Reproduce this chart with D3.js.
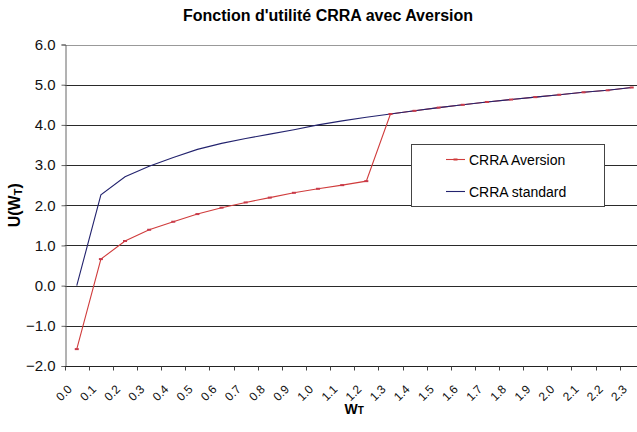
<!DOCTYPE html>
<html>
<head>
<meta charset="utf-8">
<script src="https://cdn.jsdelivr.net/npm/d3@7"></script>
<style>
  body { margin: 0; background: #fff; }
  svg { display: block; font-family: "Liberation Sans", Arial, sans-serif; }
</style>
</head>
<body>
<svg width="637" height="432"></svg>
<script>
// tick labels of the category axis
const categories = ["0.0","0.1","0.2","0.3","0.4","0.5","0.6","0.7","0.8","0.9","1.0","1.1",
                    "1.2","1.3","1.4","1.5","1.6","1.7","1.8","1.9","2.0","2.1","2.2","2.3"];

// values
const aversion = [-1.58, 0.66, 1.11, 1.39, 1.59, 1.78, 1.94, 2.07, 2.19, 2.31, 2.41, 2.50,
                  2.60, 4.27, 4.35, 4.43, 4.50, 4.57, 4.63, 4.69, 4.75, 4.81, 4.86, 4.93];
const standard = [0.00, 2.26, 2.71, 2.97, 3.19, 3.39, 3.54, 3.66, 3.77, 3.88, 4.00, 4.10,
                  4.19, 4.27, 4.35, 4.43, 4.50, 4.57, 4.63, 4.69, 4.75, 4.81, 4.86, 4.93];

const yTicks = [-2, -1, 0, 1, 2, 3, 4, 5, 6];

const svg = d3.select("svg");
const pLeft = 64.7, pRight = 643.8, pTop = 44.5, pBottom = 366;

const x = d3.scaleBand().domain(categories).range([pLeft, pRight]).padding(0);
const y = d3.scaleLinear().domain([-2, 6]).range([pBottom, pTop]);
const cx = c => x(c) + x.bandwidth() / 2;
const snap = v => Math.round(v) + 0.5;

// title
svg.append("text")
    .attr("x", 328).attr("y", 21)
    .attr("text-anchor", "middle")
    .attr("font-size", "16px").attr("font-weight", "bold")
    .text("Fonction d'utilité CRRA avec Aversion");

// horizontal grid
svg.append("g").selectAll("line")
    .data(yTicks.filter(d => d > -2))
    .join("line")
    .attr("x1", pLeft).attr("x2", pRight)
    .attr("y1", d => snap(y(d))).attr("y2", d => snap(y(d)))
    .attr("stroke", d => d === 6 ? "#999" : "#2a2a2a")
    .attr("stroke-width", 1);

// y axis
const yAxis = svg.append("g")
    .attr("transform", `translate(${snap(pLeft)},0)`)
    .call(d3.axisLeft(y).tickValues(yTicks).tickFormat(d3.format(".1f")).tickSize(4).tickPadding(6));
yAxis.select(".domain").attr("stroke", "#666");
yAxis.selectAll(".tick line").attr("stroke", "#666");
yAxis.selectAll(".tick text")
    .attr("font-size", "15px").attr("fill", "#111")
    .attr("font-family", "'Liberation Sans', Arial, sans-serif");

// x axis line + ticks on band boundaries
svg.append("line")
    .attr("x1", pLeft).attr("x2", pRight)
    .attr("y1", snap(pBottom)).attr("y2", snap(pBottom))
    .attr("stroke", "#222");
const bounds = categories.map(c => x(c)).concat([pRight]);
svg.append("g").selectAll("line")
    .data(bounds)
    .join("line")
    .attr("x1", d => snap(d)).attr("x2", d => snap(d))
    .attr("y1", snap(pBottom)).attr("y2", snap(pBottom) + 4)
    .attr("stroke", "#444");

// x tick labels, rotated
svg.append("g").selectAll("text")
    .data(categories)
    .join("text")
    .attr("transform", c => `translate(${cx(c) - 4},${pBottom + 24}) rotate(-45)`)
    .attr("text-anchor", "end")
    .attr("font-size", "12px")
    .attr("fill", "#111")
    .text(c => c);

// axis titles
const xt = svg.append("text")
    .attr("x", (pLeft + pRight) / 2).attr("y", 414)
    .attr("text-anchor", "middle")
    .attr("font-size", "14px").attr("font-weight", "bold");
xt.append("tspan").text("W");
xt.append("tspan").attr("font-size", "10px").text("T");

const yt = svg.append("text")
    .attr("transform", `translate(20,${(pTop + pBottom) / 2}) rotate(-90)`)
    .attr("text-anchor", "middle")
    .attr("font-size", "16px").attr("font-weight", "bold");
yt.append("tspan").text("U(W");
yt.append("tspan").attr("font-size", "11px").attr("dy", 2).text("T");
yt.append("tspan").attr("dy", -2).text(")");

// series
const line = d3.line().x((d, i) => cx(categories[i])).y(d => y(d));
svg.append("path").datum(aversion)
    .attr("d", line).attr("fill", "none")
    .attr("stroke", "#d03c3c").attr("stroke-width", 1.1);
svg.append("path").datum(standard)
    .attr("d", line).attr("fill", "none")
    .attr("stroke", "#23236e").attr("stroke-width", 1.1);
svg.append("g").selectAll("rect")
    .data(aversion)
    .join("rect")
    .attr("x", (d, i) => cx(categories[i]) - 2).attr("y", d => y(d) - 1)
    .attr("width", 4).attr("height", 2)
    .attr("fill", "#c83a4a");

// legend
const lg = svg.append("g");
lg.append("rect")
    .attr("x", 411.5).attr("y", 144.5).attr("width", 193).attr("height", 62)
    .attr("fill", "#fff").attr("stroke", "#444");
const items = [{ name: "CRRA Aversion", color: "#d03c3c", marker: true, yy: 159.5 },
               { name: "CRRA standard", color: "#23236e", marker: false, yy: 191.5 }];
items.forEach(it => {
    lg.append("line")
        .attr("x1", 446).attr("x2", 465).attr("y1", it.yy).attr("y2", it.yy)
        .attr("stroke", it.color).attr("stroke-width", 1.1);
    if (it.marker) {
        lg.append("rect").attr("x", 453.5).attr("y", it.yy - 1).attr("width", 4).attr("height", 2)
            .attr("fill", it.color);
    }
    lg.append("text")
        .attr("x", 469).attr("y", it.yy + 5)
        .attr("font-size", "14px")
        .text(it.name);
});
</script>
</body>
</html>
